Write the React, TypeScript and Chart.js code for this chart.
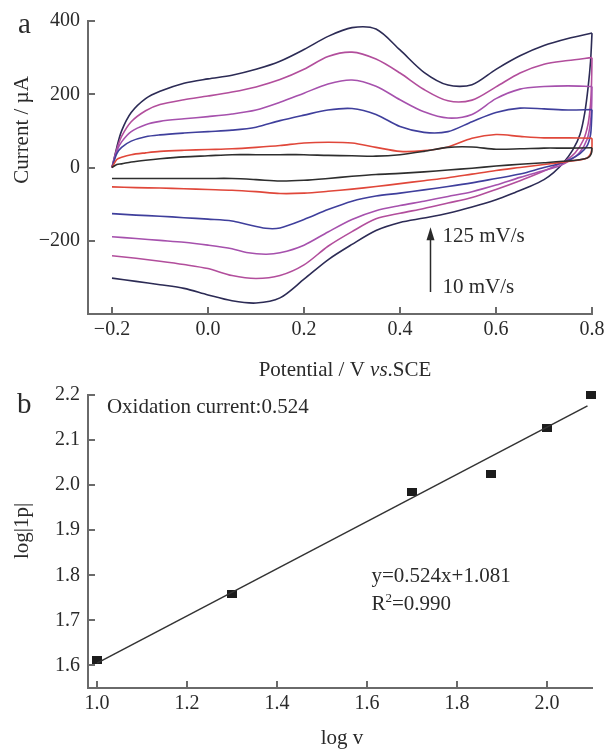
import React, { useEffect, useRef } from "react";
import { Chart, registerables } from "chart.js";

Chart.register(...registerables);

const SERIF = "'Liberation Serif', 'Times New Roman', Times, serif";
const AXIS_COLOR = "#6a6a6a";
const TEXT_COLOR = "#2a2a2a";

// ---------------- Panel a : cyclic voltammograms ----------------
const SCAN_RATES = ["10 mV/s", "20 mV/s", "50 mV/s", "75 mV/s", "100 mV/s", "125 mV/s"];
const CV_COLORS = ["#2e2e2e", "#e0473a", "#3f3f9c", "#a651ad", "#b24e9c", "#2c2b55"];

// forward (anodic) sweep, shared potential grid (V vs. SCE)
const FWD_V = [-0.2, -0.19, -0.18, -0.16, -0.13, -0.1, -0.05, 0, 0.05, 0.1, 0.15, 0.2, 0.25, 0.3, 0.35, 0.4, 0.45, 0.5, 0.55, 0.6, 0.65, 0.7, 0.75, 0.8];
const FWD_I_10 = [0, 8, 10, 15, 20, 24, 29, 32, 35, 35, 35, 35, 33, 32, 31, 35, 44, 55, 56, 50, 51, 53, 53, 54];
const FWD_I_20 = [0, 22, 28, 35, 40, 44, 47, 49, 51, 55, 60, 67, 69, 67, 55, 44, 46, 56, 80, 90, 85, 81, 81, 80];
const FWD_I_50 = [0, 38, 55, 72, 84, 89, 94, 98, 102, 110, 128, 143, 157, 161, 145, 112, 96, 98, 125, 150, 162, 160, 157, 158];
const FWD_I_75 = [0, 45, 70, 98, 117, 126, 133, 139, 146, 157, 178, 203, 228, 239, 222, 185, 152, 135, 145, 188, 214, 221, 223, 221];
const FWD_I_100 = [0, 50, 85, 125, 155, 172, 185, 195, 206, 220, 240, 268, 303, 315, 296, 258, 213, 182, 184, 220, 258, 282, 292, 300];
const FWD_I_125 = [0, 55, 100, 150, 188, 208, 230, 242, 252, 268, 290, 322, 358, 382, 378, 321, 260, 225, 226, 268, 305, 333, 352, 367];

// reverse (cathodic) sweep
const REV_V_10 = [0.8, 0.799, 0.795, 0.785, 0.76, 0.7, 0.65, 0.6, 0.55, 0.5, 0.45, 0.4, 0.35, 0.3, 0.25, 0.2, 0.15, 0.1, 0.05, 0, -0.05, -0.1, -0.15, -0.2];
const REV_I_10 = [54, 40, 30, 24, 19, 13, 9, 4, -2, -7, -12, -16, -19, -24, -30, -35, -37, -33, -30, -30, -30, -30, -30, -30];
const REV_V_20 = [0.8, 0.8, 0.798, 0.79, 0.77, 0.747, 0.7, 0.65, 0.6, 0.55, 0.5, 0.45, 0.4, 0.35, 0.3, 0.25, 0.2, 0.15, 0.1, 0.05, 0, -0.05, -0.1, -0.15, -0.2];
const REV_I_20 = [80, 60, 40, 26, 20, 16, 8, 0, -8, -18, -28, -36, -44, -52, -59, -65, -70, -71, -66, -62, -60, -58, -56, -55, -53];
const REV_V_50 = [0.8, 0.799, 0.797, 0.79, 0.775, 0.754, 0.726, 0.7, 0.65, 0.6, 0.55, 0.5, 0.45, 0.4, 0.35, 0.3, 0.25, 0.2, 0.15, 0.12, 0.08, 0.05, 0, -0.05, -0.1, -0.15, -0.2];
const REV_I_50 = [158, 125, 90, 60, 38, 22, 8, 0, -18, -30, -42, -52, -61, -70, -78, -92, -115, -142, -165, -166, -155, -146, -141, -137, -133, -130, -126];
const REV_V_75 = [0.8, 0.799, 0.796, 0.79, 0.775, 0.755, 0.733, 0.7, 0.65, 0.6, 0.55, 0.5, 0.45, 0.4, 0.35, 0.3, 0.25, 0.2, 0.15, 0.12, 0.08, 0.05, 0, -0.05, -0.1, -0.15, -0.2];
const REV_I_75 = [221, 160, 115, 78, 42, 20, 5, -8, -27, -48, -66, -79, -92, -104, -118, -142, -176, -212, -233, -237, -232, -222, -212, -204, -199, -194, -189];
const REV_V_100 = [0.8, 0.799, 0.797, 0.792, 0.782, 0.765, 0.745, 0.72, 0.69, 0.65, 0.6, 0.55, 0.5, 0.45, 0.4, 0.35, 0.3, 0.25, 0.2, 0.15, 0.1, 0.05, 0, -0.05, -0.1, -0.15, -0.2];
const REV_I_100 = [300, 230, 175, 120, 75, 40, 18, 2, -15, -36, -60, -82, -97, -112, -125, -140, -175, -215, -266, -295, -303, -295, -276, -265, -256, -248, -241];
const REV_V_125 = [0.8, 0.797, 0.792, 0.785, 0.775, 0.76, 0.74, 0.72, 0.7, 0.67, 0.64, 0.6, 0.55, 0.5, 0.45, 0.4, 0.35, 0.3, 0.25, 0.2, 0.15, 0.1, 0.05, 0, -0.05, -0.1, -0.15, -0.2];
const REV_I_125 = [367, 290, 220, 150, 90, 48, 12, -14, -33, -52, -68, -88, -108, -125, -138, -150, -172, -210, -252, -305, -356, -370, -364, -348, -330, -320, -311, -302];

const FWD_I = [FWD_I_10, FWD_I_20, FWD_I_50, FWD_I_75, FWD_I_100, FWD_I_125];
const REV_V = [REV_V_10, REV_V_20, REV_V_50, REV_V_75, REV_V_100, REV_V_125];
const REV_I = [REV_I_10, REV_I_20, REV_I_50, REV_I_75, REV_I_100, REV_I_125];

const A_X_TICKS = [-0.2, 0, 0.2, 0.4, 0.6, 0.8];
const A_Y_TICKS = [-200, 0, 200, 400];

// scan-rate arrow annotation (data coordinates)
const ARROW_V = 0.4625;
const ARROW_FROM_I = -340;
const ARROW_TO_I = -163;
const ARROW_TOP_LABEL_I = -187;
const ARROW_BOTTOM_LABEL_I = -327;

// ---------------- Panel b : log|Ip| vs log v ----------------
const LOG_V = [1.0, 1.301, 1.699, 1.875, 2.0, 2.097];
const LOG_IP = [1.612, 1.758, 1.985, 2.025, 2.126, 2.199];
const FIT_X = [1.0, 2.09];
const FIT_Y = [1.605, 2.176];
const B_X_TICKS = [1.0, 1.2, 1.4, 1.6, 1.8, 2.0];
const B_Y_TICKS = [1.6, 1.7, 1.8, 1.9, 2.0, 2.1, 2.2];

const font = (size: number, italic = false) => `${italic ? "italic " : ""}${size}px ${SERIF}`;

const innerTicks = {
  id: "innerTicks",
  beforeDatasetsDraw(chart: any) {
    const { ctx, chartArea: ca, scales } = chart;
    ctx.save();
    ctx.strokeStyle = AXIS_COLOR;
    ctx.lineWidth = 2;
    ctx.beginPath();
    for (const t of scales.x.ticks) {
      const px = Math.round(scales.x.getPixelForValue(t.value));
      ctx.moveTo(px, ca.bottom);
      ctx.lineTo(px, ca.bottom - 7);
    }
    for (const t of scales.y.ticks) {
      const py = Math.round(scales.y.getPixelForValue(t.value));
      ctx.moveTo(ca.left, py);
      ctx.lineTo(ca.left + 7, py);
    }
    ctx.stroke();
    ctx.restore();
  },
};

function rotatedText(ctx: CanvasRenderingContext2D, text: string, cx: number, cy: number, size: number) {
  ctx.save();
  ctx.translate(cx, cy);
  ctx.rotate(-Math.PI / 2);
  ctx.font = font(size);
  ctx.textAlign = "center";
  ctx.textBaseline = "middle";
  ctx.fillText(text, 0, 0);
  ctx.restore();
}

const annotA = {
  id: "annotA",
  afterDraw(chart: any) {
    const { ctx, scales } = chart;
    const x = scales.x;
    const y = scales.y;
    ctx.save();
    ctx.fillStyle = TEXT_COLOR;
    ctx.strokeStyle = TEXT_COLOR;
    ctx.textBaseline = "alphabetic";
    ctx.font = font(29);
    ctx.textAlign = "left";
    ctx.fillText("a", 18, 33);
    rotatedText(ctx, "Current / µA", 22, 130, 21);
    const parts: [string, boolean][] = [["Potential / V ", false], ["vs", true], [".SCE", false]];
    let total = 0;
    for (const [t, it] of parts) { ctx.font = font(21, it); total += ctx.measureText(t).width; }
    let cx = 345 - total / 2;
    ctx.textAlign = "left";
    for (const [t, it] of parts) {
      ctx.font = font(21, it);
      ctx.fillText(t, cx, 376);
      cx += ctx.measureText(t).width;
    }
    const ax = Math.round(x.getPixelForValue(ARROW_V)) + 0.5;
    const y0 = y.getPixelForValue(ARROW_FROM_I);
    const y1 = y.getPixelForValue(ARROW_TO_I);
    ctx.lineWidth = 1.5;
    ctx.beginPath();
    ctx.moveTo(ax, y0);
    ctx.lineTo(ax, y1 + 8);
    ctx.stroke();
    ctx.beginPath();
    ctx.moveTo(ax, y1);
    ctx.lineTo(ax - 4, y1 + 13);
    ctx.lineTo(ax + 4, y1 + 13);
    ctx.closePath();
    ctx.fill();
    ctx.font = font(21);
    ctx.textBaseline = "middle";
    ctx.fillText("125 mV/s", ax + 12, y.getPixelForValue(ARROW_TOP_LABEL_I));
    ctx.fillText("10 mV/s", ax + 12, y.getPixelForValue(ARROW_BOTTOM_LABEL_I));
    ctx.restore();
  },
};

const annotB = {
  id: "annotB",
  afterDraw(chart: any) {
    const { ctx, scales } = chart;
    const x = scales.x;
    const y = scales.y;
    ctx.save();
    ctx.fillStyle = TEXT_COLOR;
    ctx.textBaseline = "alphabetic";
    ctx.textAlign = "left";
    ctx.font = font(29);
    ctx.fillText("b", 17, 38);
    ctx.font = font(21);
    ctx.fillText("Oxidation current:0.524", x.getPixelForValue(1.022), y.getPixelForValue(2.16));
    const ex = x.getPixelForValue(1.61);
    ctx.fillText("y=0.524x+1.081", ex, y.getPixelForValue(1.785));
    const ry = y.getPixelForValue(1.723);
    ctx.fillText("R", ex, ry);
    let w = ctx.measureText("R").width;
    ctx.font = font(13);
    ctx.fillText("2", ex + w, ry - 8);
    w += ctx.measureText("2").width;
    ctx.font = font(21);
    ctx.fillText("=0.990", ex + w, ry);
    rotatedText(ctx, "log|1p|", 22, 156, 21);
    ctx.font = font(21);
    ctx.textAlign = "center";
    ctx.fillText("log v", 342, 369);
    ctx.restore();
  },
};

function axisCommon(ticksArr: number[], fit: (s: any) => void, pad: number, cb: (v: number) => string) {
  return {
    type: "linear" as const,
    afterBuildTicks: (s: any) => { s.ticks = ticksArr.map((value) => ({ value })); },
    afterFit: fit,
    grid: { display: true, drawOnChartArea: false, drawTicks: false, lineWidth: 2, color: AXIS_COLOR },
    border: { display: true, color: AXIS_COLOR, width: 2 },
    ticks: {
      padding: pad,
      color: TEXT_COLOR,
      autoSkip: false,
      maxRotation: 0,
      font: { family: SERIF, size: 20 },
      callback: (v: any) => cb(Number(v)),
    },
  };
}

const signed1 = (v: number) => (v < 0 ? "\u2212" : "") + Math.abs(v).toFixed(1);
const signedInt = (v: number) => (v < 0 ? "\u2212" + Math.abs(v) : String(v));

function configA(): any {
  const datasets: any[] = [];
  for (let i = 0; i < SCAN_RATES.length; i++) {
    const base = {
      borderColor: CV_COLORS[i],
      borderWidth: 1.6,
      showLine: true,
      pointRadius: 0,
      tension: 0.3,
      clip: false,
      fill: false,
    };
    datasets.push({ ...base, label: SCAN_RATES[i] + " anodic", data: FWD_V.map((v, j) => ({ x: v, y: FWD_I[i][j] })) });
    datasets.push({ ...base, label: SCAN_RATES[i] + " cathodic", data: REV_V[i].map((v, j) => ({ x: v, y: REV_I[i][j] })) });
  }
  return {
    type: "scatter",
    data: { datasets },
    options: {
      animation: false,
      responsive: false,
      layout: { padding: { left: 0, right: 17, top: 21, bottom: 0 } },
      plugins: { legend: { display: false }, tooltip: { enabled: false } },
      scales: {
        x: { ...axisCommon(A_X_TICKS, (s: any) => { s.height = 66; }, 4, signed1), min: -0.25, max: 0.8 },
        y: { ...axisCommon(A_Y_TICKS, (s: any) => { s.width = 88; }, 8, signedInt), min: -400, max: 400 },
      },
    },
    plugins: [innerTicks, annotA],
  };
}

function configB(): any {
  const sq = document.createElement("canvas");
  sq.width = 10;
  sq.height = 8;
  const sctx = sq.getContext("2d")!;
  sctx.fillStyle = "#1c1c1c";
  sctx.fillRect(0, 0, 10, 8);
  return {
    type: "scatter",
    data: {
      datasets: [
        {
          label: "fit",
          data: FIT_X.map((v, j) => ({ x: v, y: FIT_Y[j] })),
          showLine: true,
          borderColor: "#333333",
          borderWidth: 1.5,
          pointRadius: 0,
          clip: false,
        },
        {
          label: "log|Ip|",
          data: LOG_V.map((v, j) => ({ x: v, y: LOG_IP[j] })),
          showLine: false,
          pointStyle: sq,
          pointRadius: 5,
          clip: false,
        },
      ],
    },
    options: {
      animation: false,
      responsive: false,
      layout: { padding: { left: 0, right: 17, top: 20, bottom: 0 } },
      plugins: { legend: { display: false }, tooltip: { enabled: false } },
      scales: {
        x: { ...axisCommon(B_X_TICKS, (s: any) => { s.height = 61; }, 4, (v) => v.toFixed(1)), min: 0.98, max: 2.1 },
        y: { ...axisCommon(B_Y_TICKS, (s: any) => { s.width = 88; }, 8, (v) => v.toFixed(1)), min: 1.55, max: 2.2 },
      },
    },
    plugins: [innerTicks, annotB],
  };
}

export default function App() {
  const refA = useRef<HTMLCanvasElement>(null);
  const refB = useRef<HTMLCanvasElement>(null);
  useEffect(() => {
    const a = new Chart(refA.current!, configA());
    const b = new Chart(refB.current!, configB());
    return () => {
      a.destroy();
      b.destroy();
    };
  }, []);
  return (
    <div style={{ position: "fixed", left: 0, top: 0, width: 609, height: 749, background: "#ffffff" }}>
      <canvas ref={refA} width={609} height={380} style={{ position: "absolute", left: 0, top: 0, width: 609, height: 380 }} />
      <canvas ref={refB} width={609} height={374} style={{ position: "absolute", left: 0, top: 375, width: 609, height: 374 }} />
    </div>
  );
}
